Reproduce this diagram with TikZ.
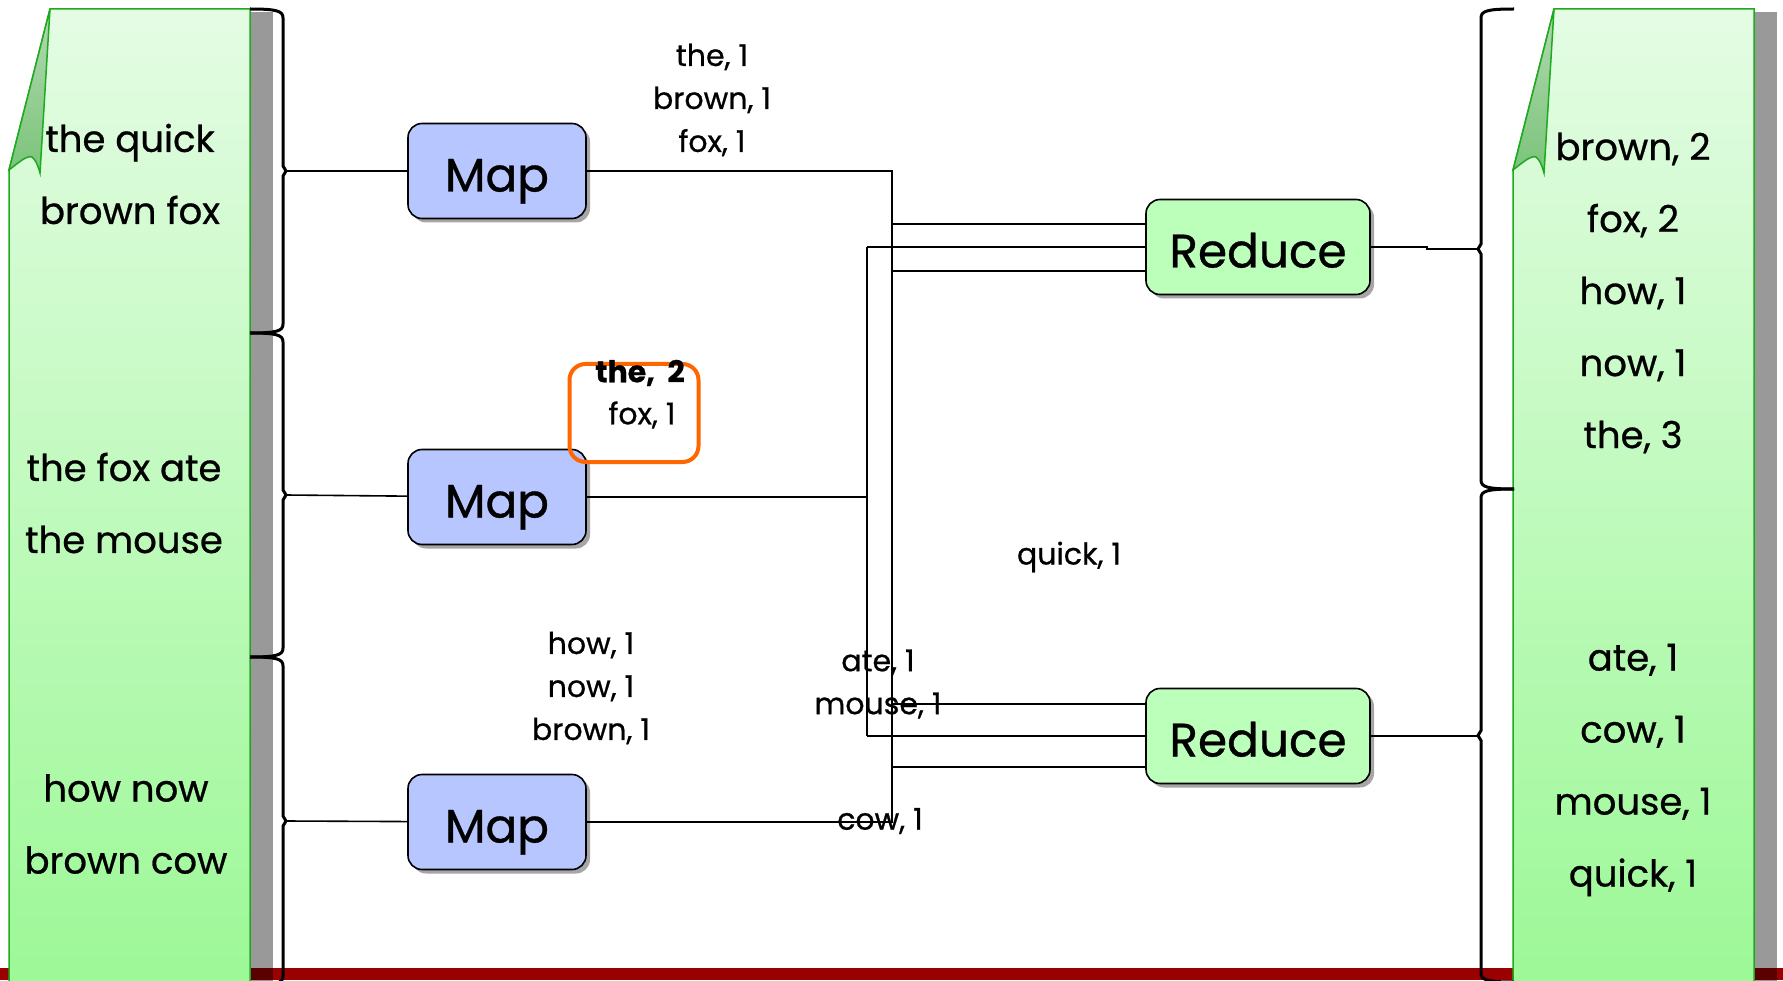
\documentclass[tikz,border=0pt]{standalone}
\usepackage{fontspec}
\setmainfont{Poppins}[FakeBold=0.7]
\usetikzlibrary{
  shadows, % For drop shadows of the boxes
}

\definecolor{mapblue}{RGB}{183,198,255}
\definecolor{reducegreen}{RGB}{187,255,187}
\definecolor{doctop}{RGB}{228,252,228}
\definecolor{docbot}{RGB}{156,248,150}
\definecolor{docedge}{RGB}{30,170,30}
\definecolor{foldtop}{RGB}{178,216,178}
\definecolor{foldbot}{RGB}{122,196,122}
\definecolor{hilite}{RGB}{255,102,0}
\definecolor{barred}{RGB}{153,0,0}

% curly bracket: x, top, bottom, hook direction (-1 left, 1 right), tip name
\newcommand{\sidebrace}[5]{%
  \draw[bracket] ({#1+(#4)*33},#2) .. controls ({#1+(#4)*6},#2) and (#1,#2+2) .. (#1,#2+9)
    -- (#1,{(#2+#3)/2-5}) -- ({#1-(#4)*3},{(#2+#3)/2}) -- (#1,{(#2+#3)/2+5})
    -- (#1,#3-9) .. controls (#1,#3-2) and ({#1+(#4)*6},#3) .. ({#1+(#4)*33},#3);
  \coordinate (#5) at ({#1-(#4)*3},{(#2+#3)/2});
}

\begin{document}
\begin{tikzpicture}[
      x=1pt, y=-1pt, % pixel grid, y downwards
      wire/.style={line width=1.6pt},
      bracket/.style={line width=3pt},
      boxshadow/.style={drop shadow={shadow xshift=4pt, shadow yshift=-4pt, opacity=0.35, fill=black}},
      mapbox/.style={draw, line width=1.6pt, rounded corners=14pt, fill=mapblue,
        minimum width=178pt, minimum height=95pt, inner sep=0pt, boxshadow,
        text height=41pt, text depth=0pt,
        font=\fontsize{47}{52}\selectfont},
      reducebox/.style={mapbox, fill=reducegreen, minimum width=224pt},
      doctext/.style={font=\fontsize{37}{72}\selectfont, align=center, inner sep=0pt},
      wordlist/.style={font=\fontsize{30}{43}\selectfont, align=center, inner sep=0pt},
      combinebox/.style={draw=hilite, line width=4pt, rounded corners=16pt,
        minimum width=129pt, minimum height=98pt},
    ]

    \useasboundingbox (0,0) rectangle (1783,981);
    \clip (0,0) rectangle (1783,981);

    % Balken unten
    \fill[barred] (0,968) rectangle (1783,980);

    % Dokumente links und rechts
    \foreach \dx in {0,1504} {
      \begin{scope}[xshift=\dx]
        \fill[black, opacity=0.4] (250,12) rectangle (273,990);
        \draw[docedge, line width=1.5pt, top color=doctop, bottom color=docbot]
          (50,9) -- (250,9) -- (250,990) -- (9,990) -- (9,170) -- cycle;
        \draw[docedge, line width=1.5pt, top color=foldtop, bottom color=foldbot]
          (50,9) -- (9,170) .. controls (18,163) and (27,155) .. (32,157)
          .. controls (36,160) and (38,166) .. (40,173) -- cycle;
      \end{scope}
    }

    % Klammern
    \sidebrace{283}{9}{333}{-1}{in1}
    \sidebrace{283}{333}{657}{-1}{in2}
    \sidebrace{283}{657}{985}{-1}{in3}
    \sidebrace{1481}{9}{489}{1}{out1}
    \sidebrace{1481}{489}{982}{1}{out2}

    % Texte in den Dokumenten
    \node[doctext] (src1) at (130,174) {the quick\\brown fox};
    \node[doctext] (src2) at (124,503) {the fox ate\\the mouse};
    \node[doctext] (src3) at (126,824) {how now\\brown cow};
    \node[doctext] (res1) at (1633,293) {brown, 2\\fox, 2\\how, 1\\now, 1\\the, 3};
    \node[doctext] (res2) at (1633,770) {ate, 1\\cow, 1\\mouse, 1\\quick, 1};

    % Map und Reduce
    \node[mapbox] (map1) at (497,171) {Map};
    \node[mapbox] (map2) at (497,497) {Map};
    \node[mapbox] (map3) at (497,822) {Map};
    \node[reducebox] (red1) at (1258,247) {Reduce};
    \node[reducebox] (red2) at (1258,736) {Reduce};

    % Zwischenergebnisse
    \node[wordlist] (kv1) at (712,100) {the, 1\\brown, 1\\fox, 1};
    \node[combinebox] (kv2box) at (634,413) {};
    \node[wordlist] (kv2) at (642,415) {fox, 1};
    \node[wordlist, font=\fontsize{30}{43}\selectfont\bfseries] (kv2b) at (640,373) {the,\ \ 2};
    \node[wordlist] (kv3) at (591,688) {how, 1\\now, 1\\brown, 1};
    \node[wordlist] (kv4) at (878,684) {ate, 1\\mouse, 1};
    \node[wordlist] (kv5) at (880,821) {cow, 1};
    \node[wordlist] (kv6) at (1069,557) {quick, 1};

    % Leitungen
    \coordinate (busAtop) at (892,171);
    \coordinate (busAbot) at (892,822);
    \coordinate (busBtop) at (867,247);
    \coordinate (busBbot) at (867,736);

    \draw[wire] (in1) -- (map1);
    \draw[wire] (in2) -- (map2);
    \draw[wire] (in3) -- (map3);
    \draw[wire] (map1) -- (busAtop) -- (busAbot) -- (map3);
    \draw[wire] (map2) -- (map2 -| busBtop);
    \draw[wire] (busBtop) -- (busBbot);
    \draw[wire] (busBtop) -- (red1);
    \draw[wire] (busBbot) -- (red2);
    \foreach \r/\d in {red1/23, red1/-24, red2/32, red2/-31}
      \draw[wire] ([yshift=\d]\r.west) -- ([yshift=\d]\r.west -| busAtop);
    \draw[wire] (red1.east) -- ++(56,0) |- (out1);
    \draw[wire] (red2.east) -- (red2.east -| out2);

  \end{tikzpicture}
\end{document}
